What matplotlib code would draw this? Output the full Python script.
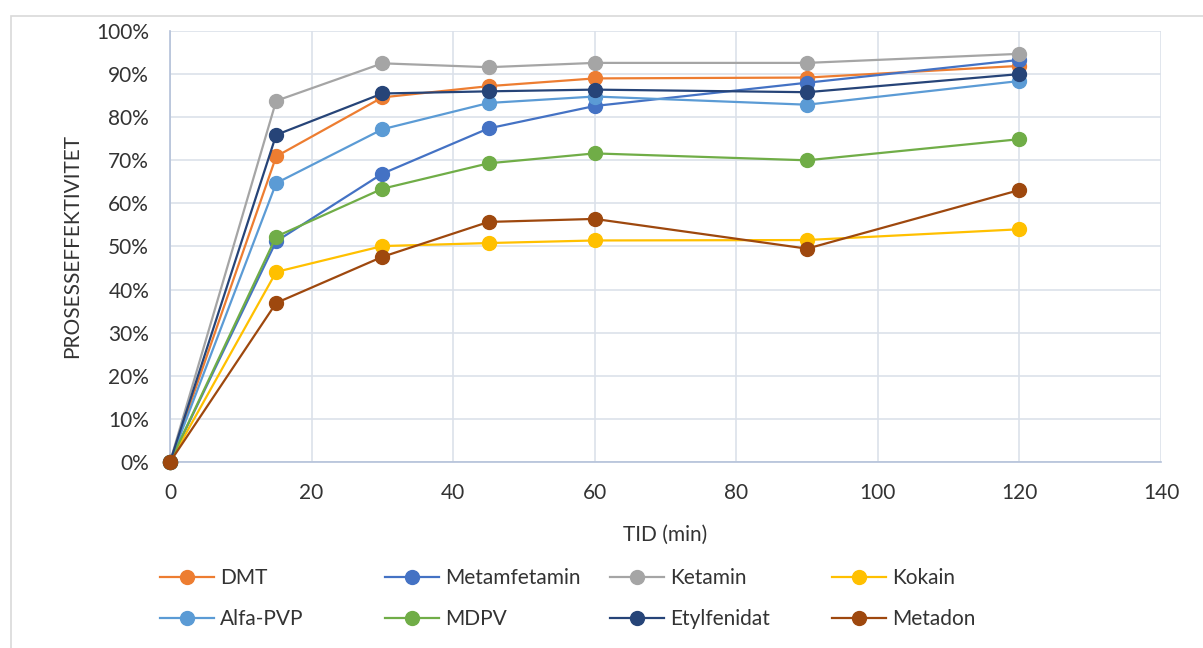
import matplotlib
matplotlib.use("Agg")
import matplotlib.pyplot as plt
from matplotlib.ticker import PercentFormatter
from matplotlib.patches import Rectangle

plt.rcParams["font.family"] = ["Lato", "DejaVu Sans"]

tid = [0, 15, 30, 45, 60, 90, 120]

dmt = [0, 70.9, 84.6, 87.2, 89.0, 89.2, 91.9]
metamfetamin = [0, 51.2, 66.9, 77.4, 82.6, 88.0, 93.3]
ketamin = [0, 83.8, 92.5, 91.6, 92.6, 92.6, 94.7]
kokain = [0, 44.1, 50.1, 50.8, 51.4, 51.5, 54.0]
alfa_pvp = [0, 64.7, 77.2, 83.3, 84.8, 82.9, 88.4]
mdpv = [0, 52.3, 63.4, 69.3, 71.6, 70.0, 74.9]
etylfenidat = [0, 75.9, 85.5, 86.0, 86.4, 85.8, 90.0]
metadon = [0, 36.9, 47.6, 55.7, 56.4, 49.5, 63.1]

names = ["DMT", "Metamfetamin", "Ketamin", "Kokain",
         "Alfa-PVP", "MDPV", "Etylfenidat", "Metadon"]
series = [dmt, metamfetamin, ketamin, kokain, alfa_pvp, mdpv, etylfenidat, metadon]
colors = ["#ED7D31", "#4472C4", "#A5A5A5", "#FFC000",
          "#5B9BD5", "#70AD47", "#264478", "#9E480E"]

W, H = 1203, 648
fig = plt.figure(figsize=(W / 100, H / 100), dpi=100)
ax = fig.add_axes([170 / W, 1 - 462 / H, 991 / W, 431 / H])

handles = []
for name, vals, c in zip(names, series, colors):
    h, = ax.plot(tid, vals, color=c, lw=1.6, marker="o", ms=10,
                 markeredgecolor=c, label=name, zorder=3, clip_on=False)
    handles.append(h)

ax.set_xlim(0, 140)
ax.set_ylim(0, 100)
ax.set_xticks(range(0, 141, 20))
ax.set_yticks(range(0, 101, 10))
ax.yaxis.set_major_formatter(PercentFormatter(decimals=0))
ax.grid(True, color="#DCE1EA", lw=1.2, zorder=0)
for side in ["top", "right"]:
    ax.spines[side].set_visible(False)
for side in ["left", "bottom"]:
    ax.spines[side].set_color("#B4C1D9")
    ax.spines[side].set_linewidth(1.2)
ax.tick_params(length=0, labelsize=15, colors="#333333", pad=15)
ax.set_xlabel("TID (min)", fontsize=15, color="#333333", labelpad=16)
ax.set_ylabel("PROSESSEFFEKTIVITET", fontsize=15, color="#333333", labelpad=10)

# legend: 4 columns, 2 rows (row-wise order as in reference)
col_x = [160, 385, 610, 832]
for j, x in enumerate(col_x):
    hs = [handles[j], handles[j + 4]]
    fig.legend(hs, [h.get_label() for h in hs], loc="upper left",
               bbox_to_anchor=(x / W, 1 - 568 / H), frameon=False,
               fontsize=15, handlelength=2.6, handletextpad=0.3,
               labelspacing=1.0, borderaxespad=0, borderpad=0,
               labelcolor="#333333")

fig.patches.append(Rectangle((11 / W, -0.01), 1.1, 1 - 16 / H + 0.01,
                             transform=fig.transFigure, fill=False,
                             edgecolor="#D9D9D9", lw=1.2))

fig.savefig("out.png", dpi=100)
